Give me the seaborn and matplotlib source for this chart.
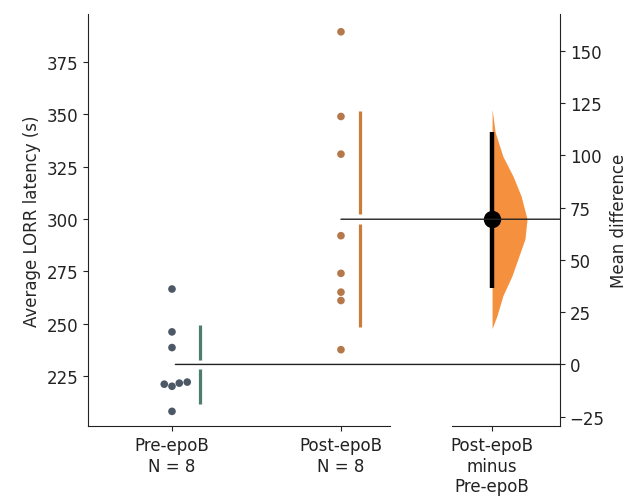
import numpy as np
import pandas as pd
import matplotlib
matplotlib.use('Agg')
import matplotlib.pyplot as plt
from matplotlib.patches import ConnectionPatch
import seaborn as sns
sns.set_style('ticks')
plt.rcParams['font.family'] = ['DejaVu Sans']
plt.rcParams['font.size'] = 12

# raw LORR latencies (s)
groups = ['Pre-epoB', 'Post-epoB']
pre_epob = [266.5, 246, 238.5, 222, 221.5, 221, 220, 208]
post_epob = [389.5, 349, 331, 292, 274, 265, 261, 237.5]

# bootstrap mean-difference: CI and the half-violin outline (relative width)
ci_low, ci_high = 36.5, 111.0
boot_diff = [122, 111, 99.5, 90, 80.5, 69.5, 60, 50.5, 42.4, 32.9, 23.3, 17.1]
boot_density = [0.0, 0.09, 0.31, 0.6, 0.83, 1.0, 0.94, 0.74, 0.57, 0.31, 0.14, 0.0]

point_colors = ['#4d5866', '#b4784a']
bar_colors = ['#4f7d6c', '#c97d3a']
violin_color = '#f4903e'

df = pd.DataFrame({
    'group': [groups[0]] * len(pre_epob) + [groups[1]] * len(post_epob),
    'latency': pre_epob + post_epob,
})
means = df.groupby('group')['latency'].mean()
sds = df.groupby('group')['latency'].std()
pre_mean, post_mean = means[groups[0]], means[groups[1]]
mean_diff = post_mean - pre_mean

fig = plt.figure(figsize=(6.34, 5.02), dpi=100)
ax1 = fig.add_axes([0.1388, 0.1494, 0.4763, 0.8207])
ax2 = fig.add_axes([0.6183, 0.1494, 0.265, 0.8207])

sns.swarmplot(data=df, x='group', y='latency', hue='group', order=groups,
              palette=point_colors, size=5.5, ax=ax1, legend=False, zorder=3)
ax1.set_xlim(-0.497, 1.29)
ax1.set_ylim(201, 398)

# gapped mean +/- sd lines beside each swarm
gap = 2.3
for i, g in enumerate(groups):
    xs = ax1.collections[i].get_offsets()[:, 0]
    xpos = np.max(xs) + 0.11
    m, s = means[g], sds[g]
    ax1.plot([xpos, xpos], [m - s, m - gap], color=bar_colors[i], lw=2.3,
             solid_capstyle='butt')
    ax1.plot([xpos, xpos], [m + gap, m + s], color=bar_colors[i], lw=2.3,
             solid_capstyle='butt')

ax1.set_xticks([0, 1])
ax1.set_xticklabels(['{}\nN = {}'.format(groups[0], len(pre_epob)),
                     '{}\nN = {}'.format(groups[1], len(post_epob))])
ax1.set_xlabel('')
ax1.set_ylabel('Average LORR latency (s)')
ax1.set_yticks([225, 250, 275, 300, 325, 350, 375])
sns.despine(ax=ax1)

# contrast axes, aligned so that 0 sits at the Pre-epoB mean
ax2.set_ylim(201 - pre_mean, 398 - pre_mean)
ax2.set_xlim(-0.592, 0.402)
half_width = 0.207
ax2.fill_betweenx(boot_diff, 0, np.array(boot_density) * half_width,
                  color=violin_color, lw=0, zorder=1)
ax2.plot([0, 0], [ci_low, ci_high], color='black', lw=3.2,
         solid_capstyle='butt', zorder=3)
ax2.plot([0], [mean_diff], 'o', color='black', markersize=11.5, zorder=4)

ax2.yaxis.tick_right()
ax2.yaxis.set_label_position('right')
ax2.set_ylabel('Mean difference')
ax2.set_yticks([-25, 0, 25, 50, 75, 100, 125, 150])
ax2.set_xticks([0])
ax2.set_xticklabels(['{}\nminus\n{}'.format(groups[1], groups[0])])
for side in ['top', 'left']:
    ax2.spines[side].set_visible(False)
ax2.spines['bottom'].set_bounds(-0.237, 0.402)

# mean reference lines running from each group into the contrast axes
for x0, m in [(0.02, pre_mean), (1.0, post_mean)]:
    con = ConnectionPatch(xyA=(x0, m), coordsA=ax1.transData,
                          xyB=(1, m - pre_mean), coordsB=ax2.get_yaxis_transform(),
                          color='#222222', lw=1.0, zorder=2)
    fig.add_artist(con)

for ax in (ax1, ax2):
    ax.tick_params(labelsize=12, colors='#222222')
    for sp in ax.spines.values():
        sp.set_color('#222222')

fig.savefig('out.png', dpi=100)
